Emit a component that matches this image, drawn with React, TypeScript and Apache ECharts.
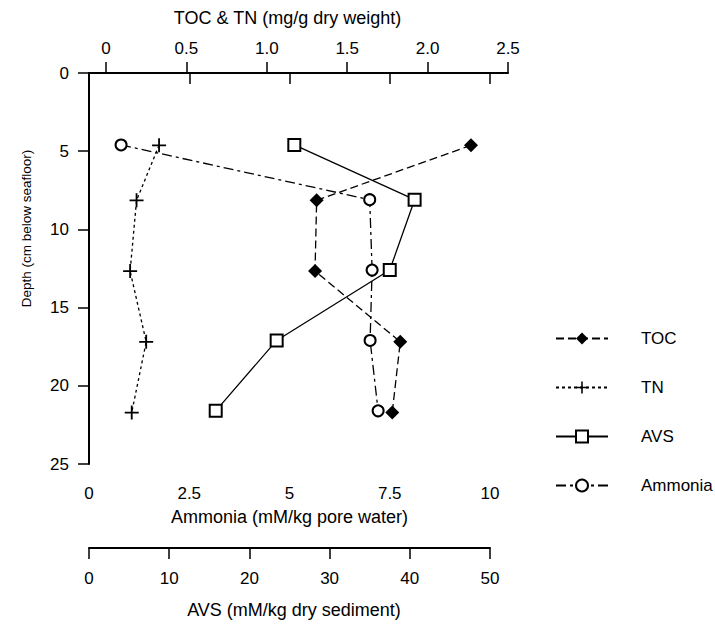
import React, { useEffect, useRef } from "react";
import * as echarts from "echarts";

// Sample depths (cm below seafloor)
const depths = [4.6, 8.1, 12.6, 17.1, 21.6];
// Series values
const tocValues = [2.27, 1.31, 1.3, 1.83, 1.78]; // mg/g dry weight
const tnValues = [0.33, 0.19, 0.15, 0.25, 0.16]; // mg/g dry weight
const avsValues = [25.6, 40.6, 37.5, 23.4, 15.8]; // mM/kg dry sediment
const ammoniaValues = [0.8, 7.0, 7.06, 7.01, 7.21]; // mM/kg pore water

const seriesNames = ["TOC", "TN", "AVS", "Ammonia"];

// Tick labels
const tocTnTicks = [0, 0.5, 1.0, 1.5, 2.0, 2.5];
const tocTnTickLabels = ["0", "0.5", "1.0", "1.5", "2.0", "2.5"];
const ammoniaTicks = [0, 2.5, 5, 7.5, 10];
const ammoniaTickLabels = ["0", "2.5", "5", "7.5", "10"];
const avsTicks = [0, 10, 20, 30, 40, 50];
const avsTickLabels = ["0", "10", "20", "30", "40", "50"];
const depthTicks = [0, 5, 10, 15, 20, 25];
const depthTickLabels = ["0", "5", "10", "15", "20", "25"];

const FONT = "'Liberation Sans', Arial, Helvetica, sans-serif";
const PLUS = "path://M4.35,0H5.65V4.35H10V5.65H5.65V10H4.35V5.65H0V4.35H4.35Z";

function labelFor(ticks: number[], labels: string[]) {
  return (v: number) => {
    const i = ticks.findIndex((t) => Math.abs(t - v) < 1e-9);
    return i >= 0 ? labels[i] : "";
  };
}

const axisLine = { show: true, lineStyle: { color: "#000", width: 2 } };
const axisTick = { show: true, length: 11, lineStyle: { color: "#000", width: 1.5 } };
const labelStyle = { color: "#000", fontSize: 17, fontFamily: FONT };
const nameStyle = { color: "#000", fontSize: 18, fontFamily: FONT };

export default function App() {
  const ref = useRef<HTMLDivElement>(null);
  useEffect(() => {
    if (!ref.current) return;
    const chart = echarts.init(ref.current, undefined, { renderer: "svg" });
    const pair = (xs: number[]) => xs.map((x, i) => [x, depths[i]]);
    const option = {
      animation: false,
      backgroundColor: "#fff",
      grid: [
        { left: 89, top: 73, width: 401, height: 393 },
        { left: 106, top: 73, width: 402, height: 393 },
      ],
      xAxis: [
        {
          gridIndex: 0,
          type: "value",
          position: "bottom",
          min: ammoniaTicks[0],
          max: ammoniaTicks[ammoniaTicks.length - 1],
          interval: 2.5,
          name: "Ammonia (mM/kg pore water)",
          nameLocation: "middle",
          nameGap: 44,
          nameTextStyle: { ...nameStyle },
          axisLine,
          axisTick,
          axisLabel: { ...labelStyle, margin: 21, formatter: labelFor(ammoniaTicks, ammoniaTickLabels) },
          splitLine: { show: false },
        },
        {
          gridIndex: 0,
          type: "value",
          position: "bottom",
          offset: 84,
          min: avsTicks[0],
          max: avsTicks[avsTicks.length - 1],
          interval: 10,
          name: "AVS (mM/kg dry sediment)",
          nameLocation: "middle",
          nameGap: 53,
          nameTextStyle: { ...nameStyle, padding: [0, 0, 0, 9] },
          axisLine,
          axisTick,
          axisLabel: { ...labelStyle, margin: 22, formatter: labelFor(avsTicks, avsTickLabels) },
          splitLine: { show: false },
        },
        {
          gridIndex: 1,
          type: "value",
          position: "top",
          min: tocTnTicks[0],
          max: tocTnTicks[tocTnTicks.length - 1],
          interval: 0.5,
          name: "TOC & TN (mg/g dry weight)",
          nameLocation: "middle",
          nameGap: 46,
          nameTextStyle: { ...nameStyle, padding: [0, 39, 0, 0] },
          axisLine,
          axisTick,
          axisLabel: { ...labelStyle, margin: 16, formatter: labelFor(tocTnTicks, tocTnTickLabels) },
          splitLine: { show: false },
        },
      ],
      yAxis: [
        {
          gridIndex: 0,
          type: "value",
          position: "left",
          inverse: true,
          min: depthTicks[0],
          max: depthTicks[depthTicks.length - 1],
          interval: 5,
          name: "Depth (cm below seafloor)",
          nameLocation: "middle",
          nameGap: 56,
          nameTextStyle: { color: "#000000", fontSize: 13.5, fontFamily: FONT, padding: [0, 0, 0, 80] },
          axisLine,
          axisTick,
          axisLabel: { ...labelStyle, margin: 20, formatter: labelFor(depthTicks, depthTickLabels) },
          splitLine: { show: false },
        },
        {
          gridIndex: 1,
          type: "value",
          inverse: true,
          min: depthTicks[0],
          max: depthTicks[depthTicks.length - 1],
          show: false,
          splitLine: { show: false },
        },
      ],
      legend: {
        orient: "vertical",
        left: 550,
        top: 325,
        itemWidth: 52,
        itemHeight: 15,
        itemGap: 32,
        data: seriesNames,
        textStyle: { color: "#000", fontSize: 17, fontFamily: FONT, padding: [8, 0, 0, 28] },
      },
      series: [
        {
          name: seriesNames[0],
          type: "line",
          xAxisIndex: 2,
          yAxisIndex: 1,
          data: pair(tocValues),
          symbol: "diamond",
          symbolSize: 14,
          clip: false,
          itemStyle: { color: "#000" },
          lineStyle: { color: "#000", width: 1.3, type: [8, 4] },
        },
        {
          name: seriesNames[1],
          type: "line",
          xAxisIndex: 2,
          yAxisIndex: 1,
          data: pair(tnValues),
          symbol: PLUS,
          symbolSize: 14,
          clip: false,
          itemStyle: { color: "#000" },
          lineStyle: { color: "#000", width: 1.3, type: [3, 3] },
        },
        {
          name: seriesNames[2],
          type: "line",
          xAxisIndex: 1,
          yAxisIndex: 0,
          data: pair(avsValues),
          symbol: "emptyRect",
          symbolSize: 12,
          clip: false,
          itemStyle: { color: "#000", borderWidth: 1.4 },
          lineStyle: { color: "#000", width: 1.3, type: "solid" },
        },
        {
          name: seriesNames[3],
          type: "line",
          xAxisIndex: 0,
          yAxisIndex: 0,
          data: pair(ammoniaValues),
          symbol: "emptyCircle",
          symbolSize: 11,
          clip: false,
          itemStyle: { color: "#000", borderWidth: 1.4 },
          lineStyle: { color: "#000", width: 1.3, type: [10, 4, 3, 4] },
        },
      ],
    };
    chart.setOption(option as any);
    return () => chart.dispose();
  }, []);
  return (
    <div
      ref={ref}
      style={{ position: "fixed", left: 0, top: 0, width: 715, height: 624, background: "#fff" }}
    />
  );
}
